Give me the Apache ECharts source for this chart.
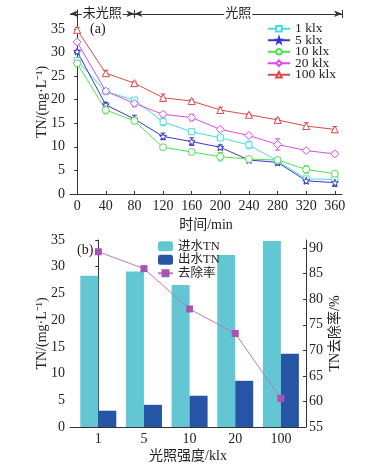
<!DOCTYPE html>
<html><head><meta charset="utf-8">
<script src="https://cdn.jsdelivr.net/npm/echarts@6/dist/echarts.min.js"></script>
<style>html,body{margin:0;padding:0;background:#fff}#c{width:365px;height:464px}</style>
</head><body><div id="c"></div>
<script>
// ---- Panel (a) data ----
const times = [0, 40, 80, 120, 160, 200, 240, 280, 320, 360];
const timeTicks = [0, 40, 80, 120, 160, 200, 240, 280, 320, 360];
const seriesNames = ['1 klx', '5 klx', '10 klx', '20 klx', '100 klx'];
const tn1 = [28.3, 21.7, 19.9, 15.3, 13.2, 11.9, 10.4, 7.0, 3.2, 3.1];
const tn5 = [30.2, 18.9, 15.9, 12.2, 11.1, 9.9, 7.2, 6.7, 2.8, 2.4];
const tn10 = [27.7, 17.8, 15.5, 9.9, 8.9, 7.9, 7.4, 7.2, 5.2, 4.3];
const tn20 = [32.2, 21.8, 19.2, 16.9, 16.2, 13.7, 12.4, 10.5, 9.2, 8.5];
const tn100 = [34.8, 25.6, 23.5, 20.4, 19.7, 17.8, 16.8, 15.7, 14.4, 13.7];
const err1 = [0.4, 0.4, 0.5, 0.8, 0.5, 0.3, 0.8, 0.4, 0.5, 0.4];
const err5 = [0.3, 0.5, 0.8, 0.7, 0.8, 0.5, 0.3, 0.6, 0.6, 0.8];
const err10 = [0.4, 0.8, 0.5, 0.3, 0.3, 0.9, 0.3, 0.4, 0.8, 0.3];
const err20 = [0.4, 0.4, 0.7, 0.4, 0.7, 0.3, 0.4, 1.2, 0.4, 0.4];
const err100 = [0.5, 0.6, 0.3, 0.8, 0.3, 0.6, 0.3, 0.3, 0.7, 0.6];

// ---- Panel (b) data ----
const lightCats = ['1', '5', '10', '20', '100'];
const inflowTN = [28.3, 29.1, 26.6, 32.2, 34.8];
const outflowTN = [3.05, 4.15, 5.85, 8.65, 13.7];
const removalRate = [89.3, 86.0, 78.1, 73.3, 60.6];

const serif = '"Liberation Serif","Noto Sans CJK SC",serif';
const colorsA = ['#45dbe4', '#3838c8', '#52de52', '#d84ee6', '#d94a4a'];
const symbolsA = ['rect', 'path://M0,-10 L2.35,-3.24 9.51,-3.09 3.8,1.24 5.88,8.09 0,4 -5.88,8.09 -3.8,1.24 -9.51,-3.09 -2.35,-3.24 Z', 'circle', 'diamond', 'triangle'];
const symSizeA = [6, 7, 7, 8, 7];
const dataA = [tn1, tn5, tn10, tn20, tn100];
const errA = [err1, err5, err10, err20, err100];

const chart = echarts.init(document.getElementById('c'), null, {renderer: 'canvas'});

const axisCommon = {
  axisLine: {lineStyle: {color: '#333', width: 1}},
  axisTick: {inside: false, length: 3, lineStyle: {color: '#333'}},
  splitLine: {show: false},
  axisLabel: {color: '#222', fontFamily: serif, fontSize: 14}
};
const nameStyle = {fontFamily: serif, fontSize: 14, color: '#222'};

const series = [];
dataA.forEach((arr, i) => {
  series.push({
    name: seriesNames[i], type: 'line', xAxisIndex: 0, yAxisIndex: 0,
    data: times.map((t, j) => [t, arr[j]]),
    symbol: symbolsA[i], symbolSize: symSizeA[i],
    itemStyle: {color: '#fff', borderColor: colorsA[i], borderWidth: 1},
    lineStyle: {color: colorsA[i], width: 1},
    z: 3
  });
  series.push({
    type: 'custom', xAxisIndex: 0, yAxisIndex: 0, silent: true, z: 2,
    data: times.map((t, j) => [t, arr[j], errA[i][j]]),
    renderItem: function (params, api) {
      const x = api.value(0), y = api.value(1), e = api.value(2);
      const p1 = api.coord([x, y + e]);
      const p2 = api.coord([x, y - e]);
      const st = {stroke: colorsA[i], lineWidth: 1};
      return {type: 'group', children: [
        {type: 'line', shape: {x1: p1[0], y1: p1[1], x2: p2[0], y2: p2[1]}, style: st},
        {type: 'line', shape: {x1: p1[0] - 2.5, y1: p1[1], x2: p1[0] + 2.5, y2: p1[1]}, style: st},
        {type: 'line', shape: {x1: p2[0] - 2.5, y1: p2[1], x2: p2[0] + 2.5, y2: p2[1]}, style: st}
      ]};
    }
  });
});

// annotation arrows (a)
series.push({
  type: 'line', xAxisIndex: 0, yAxisIndex: 0, data: [], silent: true,
  markLine: {
    silent: true, animation: false,
    symbol: ['arrow', 'arrow'], symbolSize: [5, 8],
    lineStyle: {color: '#333', width: 1, type: 'solid'},
    label: {show: true, formatter: '{b}', position: 'middle', distance: 0,
            verticalAlign: 'middle', color: '#222', fontSize: 13,
            fontFamily: serif, backgroundColor: '#fff', padding: [0, 1]},
    data: [
      [{coord: [-10, 38.2], name: '未光照'}, {coord: [80, 38.2]}],
      [{coord: [80, 38.2], name: '光照'}, {coord: [370, 38.2]}],
      [{coord: [80, 37.3], symbol: 'none', label: {show: false}}, {coord: [80, 39], symbol: 'none'}],
      [{coord: [370, 37.3], symbol: 'none', label: {show: false}}, {coord: [370, 39], symbol: 'none'}]
    ]
  }
});

// panel (b)
series.push({
  name: '进水TN', type: 'bar', xAxisIndex: 1, yAxisIndex: 1,
  data: lightCats.map((c, j) => [j, inflowTN[j]]),
  barWidth: 18, barGap: '0%', itemStyle: {color: '#63c7d3'}
});
series.push({
  name: '出水TN', type: 'bar', xAxisIndex: 1, yAxisIndex: 1,
  data: lightCats.map((c, j) => [j, outflowTN[j]]),
  barWidth: 18, barGap: '0%', itemStyle: {color: '#2655a5'}
});
series.push({
  name: '去除率', type: 'line', xAxisIndex: 1, yAxisIndex: 2,
  data: lightCats.map((c, j) => [j, removalRate[j]]),
  symbol: 'rect', symbolSize: 7,
  itemStyle: {color: '#a554b4'}, lineStyle: {color: '#b67bc2', width: 1}, z: 5
});

const option = {
  animation: false,
  backgroundColor: '#fff',
  textStyle: {fontFamily: serif},
  grid: [
    {left: 70, right: 23, top: 10, bottom: 270, containLabel: false},
    {left: 70, right: 59, top: 240, bottom: 37, containLabel: false}
  ],
  legend: [
    {
      data: seriesNames, orient: 'vertical', left: 267, top: 22, padding: 0,
      itemWidth: 22, itemHeight: 7, itemGap: -2,
      textStyle: {fontFamily: serif, fontSize: 13.5, color: '#222'}
    },
    {
      data: ['进水TN', '出水TN', '去除率'],
      orient: 'vertical', left: 157, top: 240, padding: 0,
      itemWidth: 15, itemHeight: 10, itemGap: 1,
      textStyle: {fontFamily: serif, fontSize: 12.5, color: '#222'}
    }
  ],
  graphic: [
    {type: 'text', left: 90, top: 22, style: {text: '(a)', font: '14px ' + serif, fill: '#222'}},
    {type: 'text', left: 77, top: 243, style: {text: '(b)', font: '14px ' + serif, fill: '#222'}}
  ],
  xAxis: [
    Object.assign({}, axisCommon, {
      type: 'value', gridIndex: 0, min: -10, max: 370,
      name: '时间/min', nameLocation: 'middle', nameGap: 24, nameMoveOverlap: false,
      nameTextStyle: nameStyle,
      axisLabel: Object.assign({}, axisCommon.axisLabel, {customValues: timeTicks, margin: 5}),
      axisTick: Object.assign({}, axisCommon.axisTick, {inside: true, customValues: timeTicks})
    }),
    Object.assign({}, axisCommon, {
      type: 'value', gridIndex: 1, min: -0.62, max: 4.55,
      name: '光照强度/klx', nameLocation: 'middle', nameGap: 22, nameMoveOverlap: false,
      nameTextStyle: nameStyle,
      axisLabel: Object.assign({}, axisCommon.axisLabel, {
        customValues: [0, 1, 2, 3, 4], margin: 5,
        formatter: v => lightCats[Math.round(v)]
      }),
      axisTick: {show: false}
    })
  ],
  yAxis: [
    Object.assign({}, axisCommon, {
      type: 'value', gridIndex: 0, min: 0, max: 39, interval: 5,
      name: 'TN/(mg·L⁻¹)', nameLocation: 'middle', nameGap: 21, nameRotate: 90, nameMoveOverlap: false,
      nameTextStyle: nameStyle,
      axisLabel: Object.assign({}, axisCommon.axisLabel, {showMaxLabel: false, margin: 5}),
    }),
    Object.assign({}, axisCommon, {
      type: 'value', gridIndex: 1, min: 0, max: 35, interval: 5,
      name: 'TN/(mg·L⁻¹)', nameLocation: 'middle', nameGap: 21, nameRotate: 90, nameMoveOverlap: false,
      nameTextStyle: nameStyle,
      axisLabel: Object.assign({}, axisCommon.axisLabel, {margin: 5})
    }),
    Object.assign({}, axisCommon, {
      type: 'value', gridIndex: 1, position: 'right', min: 55, max: 91.6, interval: 5,
      name: 'TN去除率/%', nameLocation: 'middle', nameGap: 22, nameRotate: 90, nameMoveOverlap: false,
      nameTextStyle: nameStyle,
      axisTick: Object.assign({}, axisCommon.axisTick, {inside: true}),
      axisLabel: Object.assign({}, axisCommon.axisLabel, {showMaxLabel: false, margin: 3})
    })
  ],
  series: series
};
chart.setOption(option);
</script>
</body></html>
